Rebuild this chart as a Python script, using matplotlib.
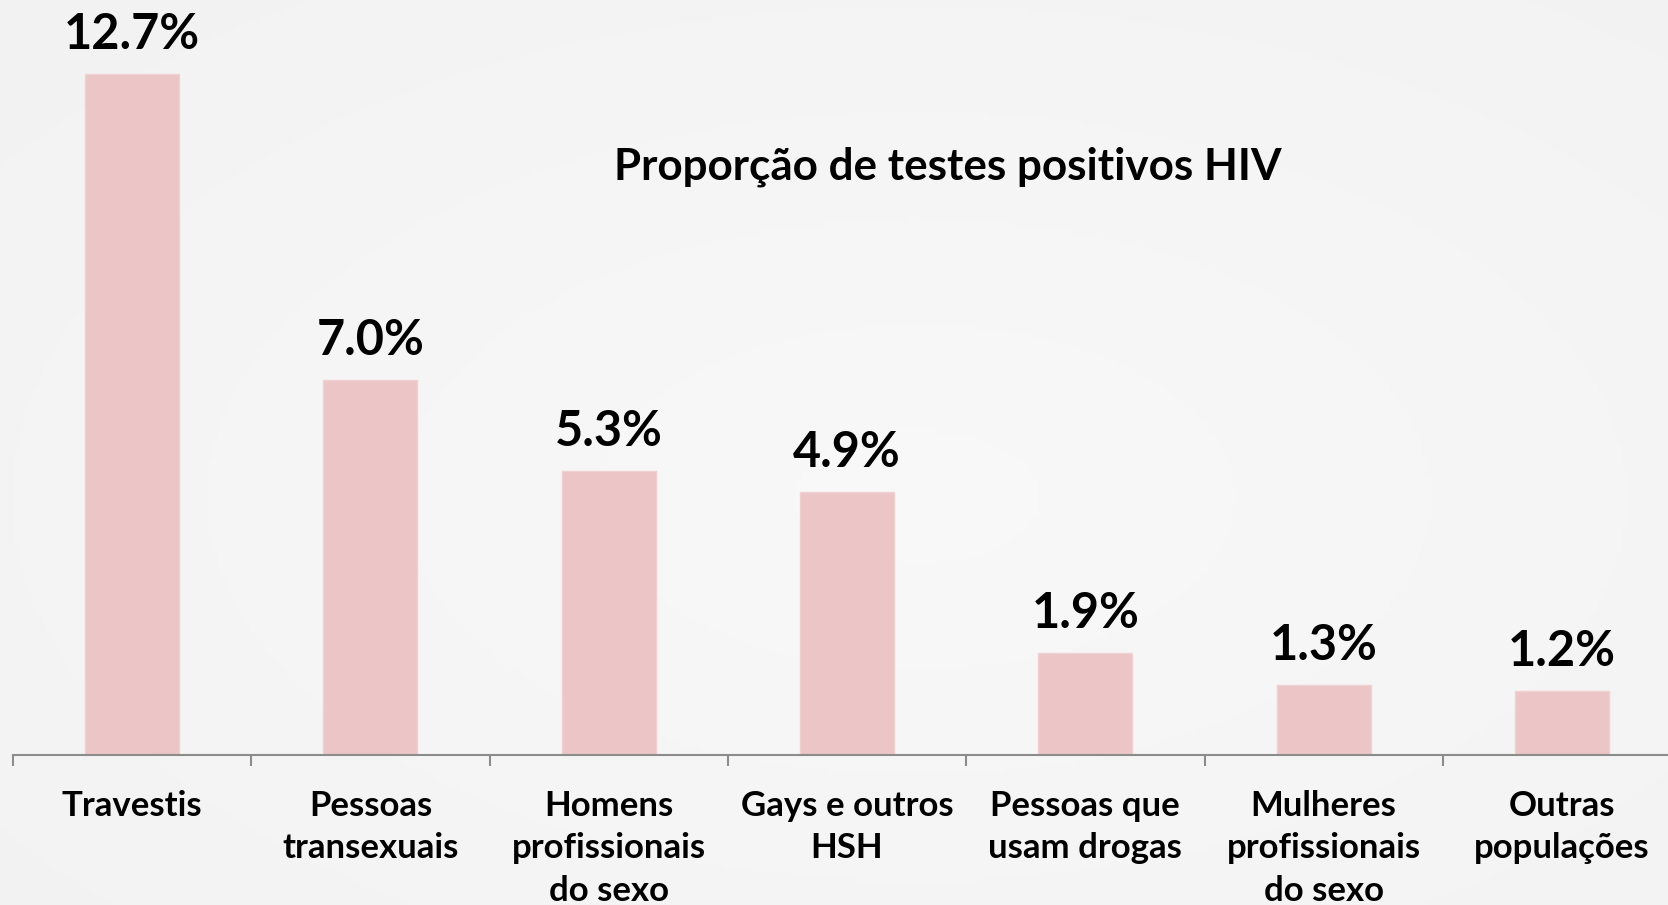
import numpy as np
import matplotlib
matplotlib.use("Agg")
import matplotlib.pyplot as plt

categories = ["Travestis", "Pessoas\ntransexuais", "Homens\nprofissionais\ndo sexo",
              "Gays e outros\nHSH", "Pessoas que\nusam drogas", "Mulheres\nprofissionais\ndo sexo",
              "Outras\npopulações"]
values = [12.7, 7.0, 5.3, 4.9, 1.9, 1.3, 1.2]
value_labels = ["12.7%", "7.0%", "5.3%", "4.9%", "1.9%", "1.3%", "1.2%"]
title = "Proporção de testes positivos HIV"

W, H = 1668, 905
fig = plt.figure(figsize=(W / 100, H / 100), dpi=100)
FONT = "Lato"

# background radial gradient
bg = fig.add_axes([0, 0, 1, 1], zorder=-10)
yy, xx = np.mgrid[0:1:200j, 0:1:360j]
r = np.sqrt(((xx - 0.55) / 0.9) ** 2 + ((yy - 0.45) / 0.9) ** 2)
g = 0.975 - 0.03 * np.clip(r, 0, 1)
bg.imshow(np.dstack([g, g, g]), extent=[0, 1, 0, 1], aspect="auto", origin="lower")
bg.axis("off")

left = 13 / W
bottom = (H - 755) / H
ax = fig.add_axes([left, bottom, 1 - left, 1 - bottom])
ax.patch.set_alpha(0)
x = np.arange(len(categories))
slot = 238.3  # pixels per category
ax.bar(x, values, width=94 / slot, color="#ecc6c6", edgecolor="#f0d0d0", linewidth=1)
ax.set_xlim(-0.5, -0.5 + (W - 13) / slot)
ax.set_ylim(0, 14.08)

for s in ["top", "right", "left"]:
    ax.spines[s].set_visible(False)
ax.spines["bottom"].set_color("#8c8c8c")
ax.spines["bottom"].set_linewidth(1.5)
ax.set_yticks([])
ax.set_xticks(np.arange(len(categories)) - 0.5)
ax.set_xticklabels([])
ax.tick_params(axis="x", direction="out", length=8, width=1.5, color="#8c8c8c")

for xi, v, lab in zip(x, values, value_labels):
    ax.annotate(lab, (xi, v), xytext=(0, 18), textcoords="offset points",
                ha="center", va="baseline", fontsize=35, fontweight="bold",
                family=FONT, color="black")

for xi, cat in zip(x, categories):
    ax.annotate(cat, (xi, 0), xytext=(0, -25), textcoords="offset points",
                ha="center", va="top", fontsize=25, fontweight="bold",
                family=FONT, color="black", linespacing=1.41, annotation_clip=False)

fig.text(948 / W, 1 - 167 / H, title, ha="center", va="center", fontsize=31.7,
         fontweight="bold", family=FONT, color="black")

fig.savefig("out.png", dpi=100)
